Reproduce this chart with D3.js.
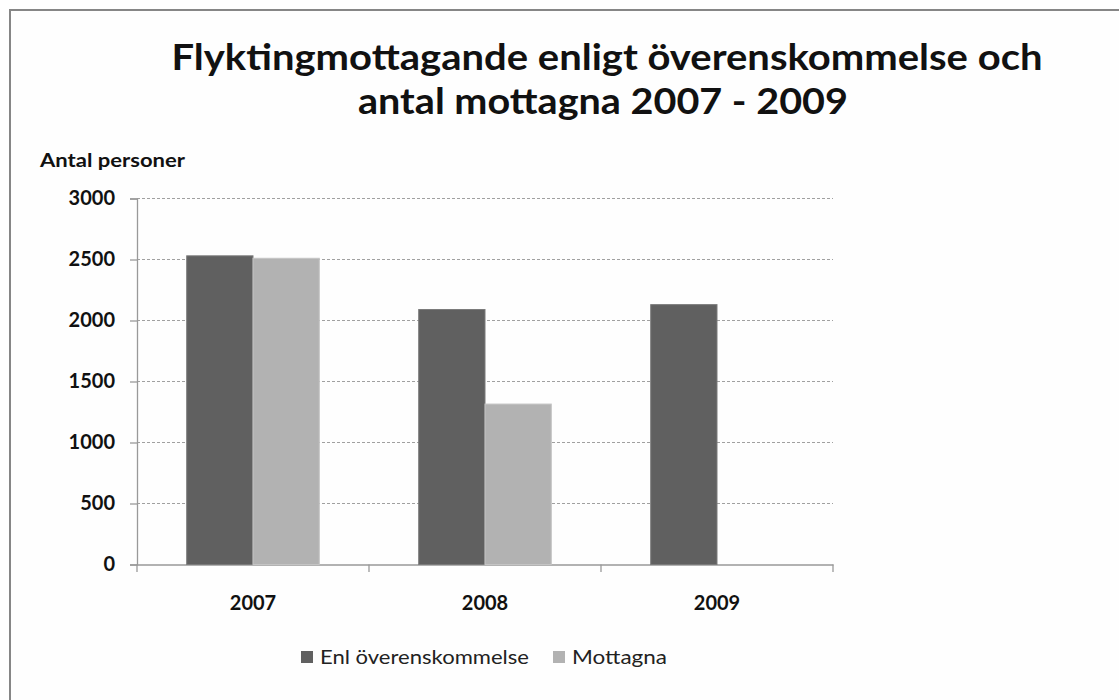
<!DOCTYPE html>
<html><head><meta charset="utf-8">
<script src="https://cdn.jsdelivr.net/npm/d3@7"></script>
<style>body{margin:0;background:#fff}svg{display:block}text{font-family:Lato,"Open Sans",sans-serif}</style>
</head><body><svg id="c" width="1119" height="700"></svg>
<script>
const categories = ["2007", "2008", "2009"];
const seriesNames = ["Enl överenskommelse", "Mottagna"];
const enlOverens = [2530, 2090, 2130];
const mottagna = [2510, 1315, null];
const yTicks = [0, 500, 1000, 1500, 2000, 2500, 3000];
const colors = ["#606060", "#b2b2b2"];

const svg = d3.select("#c");
svg.append("rect").attr("x",10).attr("y",10).attr("width",1130).attr("height",720)
  .attr("fill","#fefefe").attr("stroke","#868686").attr("stroke-width",2);

const title = [["Flyktingmottagande enligt överenskommelse och", 607, 70, 871],
               ["antal mottagna 2007 - 2009", 603, 114, 490]];
title.forEach(t => svg.append("text").attr("x",t[1]).attr("y",t[2]).attr("text-anchor","middle")
  .attr("font-size",36).attr("font-weight","bold").attr("fill","#111")
  .attr("textLength",t[3]).attr("lengthAdjust","spacingAndGlyphs").text(t[0]));

const x0 = d3.scaleBand().domain(categories).range([137, 833]).paddingInner(0).paddingOuter(0);
const y = d3.scaleLinear().domain([0, 3000]).range([564.5, 198.5]);
const bw = x0.bandwidth() / 3.5;

// gridlines
svg.append("g").selectAll("line").data(yTicks.filter(d => d > 0)).join("line")
  .attr("x1",137).attr("x2",833).attr("y1",d=>y(d)).attr("y2",d=>y(d))
  .attr("stroke","#a0a0a0").attr("stroke-width",1.2).attr("stroke-dasharray","3,2");

// y axis
const yAxis = d3.axisLeft(y).tickValues(yTicks).tickSize(7).tickFormat(d3.format("d"));
const gy = svg.append("g").attr("transform","translate(137,0)").call(yAxis);
gy.select(".domain").attr("stroke","#999").attr("stroke-width",1.3);
gy.selectAll(".tick line").attr("stroke","#999").attr("stroke-width",1.3);
gy.selectAll(".tick text").attr("x",-22).attr("font-size",20).attr("font-weight","bold")
  .attr("fill","#111").style("font-family","Lato,sans-serif");

// x axis
const xAxis = d3.axisBottom(x0).tickSize(0).tickFormat("");
const gx = svg.append("g").attr("transform","translate(0,564.5)").call(xAxis);
gx.select(".domain").attr("stroke","#999").attr("stroke-width",1.3);
svg.append("g").selectAll("line").data([0,1,2,3]).join("line")
  .attr("x1",i=>137+i*x0.step()).attr("x2",i=>137+i*x0.step())
  .attr("y1",564.5).attr("y2",572).attr("stroke","#999").attr("stroke-width",1.3);
svg.append("g").selectAll("text").data(categories).join("text")
  .attr("x",d=>x0(d)+x0.bandwidth()/2).attr("y",610).attr("text-anchor","middle")
  .attr("font-size",20).attr("font-weight","bold").attr("fill","#111").text(d=>d);

// bars
const series = [enlOverens, mottagna];
series.forEach((vals, si) => {
  svg.append("g").selectAll("rect").data(categories.map((c,i)=>({c, v: vals[i]})).filter(d=>d.v!=null))
    .join("rect")
    .attr("x", d => x0(d.c) + bw*0.75 + si*bw)
    .attr("width", bw)
    .attr("y", d => y(d.v))
    .attr("height", d => y(0) - y(d.v))
    .attr("fill", colors[si]).attr("stroke", si===0 ? "#7a7a7a" : "#c4c4c4").attr("stroke-width",1);
});

// y title
svg.append("text").attr("x",40).attr("y",167).attr("font-size",18).attr("font-weight","bold")
  .attr("textLength",145).attr("lengthAdjust","spacingAndGlyphs")
  .attr("fill","#111").text("Antal personer");

// legend
const legX = [301, 553];
const legW = [209, 95];
seriesNames.forEach((n,i) => {
  svg.append("rect").attr("x",legX[i]).attr("y",651).attr("width",12).attr("height",12).attr("fill",colors[i]);
  svg.append("text").attr("x",legX[i]+19).attr("y",664).attr("font-size",20).attr("fill","#222")
    .attr("textLength",legW[i]).attr("lengthAdjust","spacingAndGlyphs").text(n);
});
</script></body></html>
